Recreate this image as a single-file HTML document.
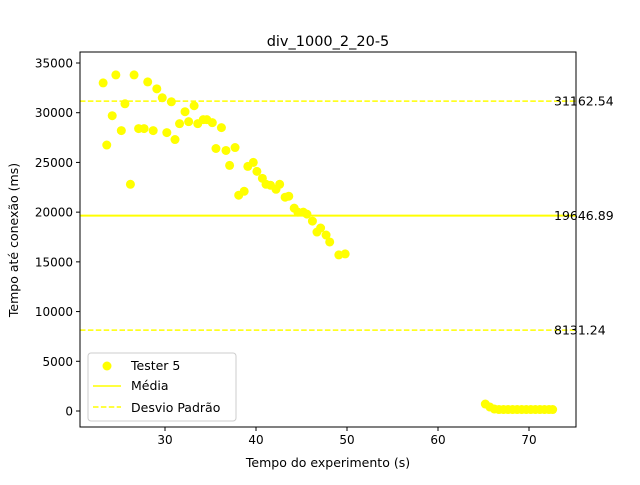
<!DOCTYPE html>
<html><head><meta charset="utf-8"><style>
body{margin:0;background:#fff;font-family:"Liberation Sans","DejaVu Sans",sans-serif}
text{font-family:"DejaVu Sans","Liberation Sans",sans-serif}
</style></head><body>
<svg id="chart" width="640" height="480" xmlns="http://www.w3.org/2000/svg">
<rect width="640" height="480" fill="#fff"/>
</svg>
<script>
const xs=[23.2,23.6,24.2,24.6,25.2,25.6,26.2,26.6,27.1,27.7,28.1,28.7,29.1,29.7,30.2,30.7,31.1,31.6,32.2,32.6,33.2,33.6,34.2,34.6,35.2,35.6,36.2,36.7,37.1,37.7,38.1,38.7,39.1,39.7,40.1,40.7,41.1,41.6,42.2,42.6,43.2,43.6,44.2,44.6,45.2,45.6,46.2,46.7,47.1,47.7,48.1,49.1,49.8,65.2,65.7,66.2,66.7,67.2,67.7,68.2,68.7,69.2,69.7,70.2,70.7,71.2,71.7,72.2,72.6];
const ys=[33000,26750,29700,33800,28200,30900,22800,33800,28400,28400,33100,28200,32400,31500,28000,31100,27300,28900,30100,29100,30700,28900,29300,29300,29000,26400,28500,26200,24700,26500,21700,22100,24600,25000,24100,23400,22800,22700,22300,22800,21500,21600,20400,20000,20000,19800,19100,18000,18400,17700,17000,15700,15800,700,400,200,150,150,150,150,150,150,150,150,150,150,150,150,150];
const mean=19646.89, upper=31162.54, lower=8131.24;
const xTicks=[30,40,50,60,70];
const yTicks=[0,5000,10000,15000,20000,25000,30000,35000];
const L=80,R=576,T=52,B=427;
const X=v=>165+(v-30)*9.1;
const Y=v=>411-v*0.009943;
const NS="http://www.w3.org/2000/svg";
const svg=document.getElementById('chart');
function mk(t,a,txt){const e=document.createElementNS(NS,t);for(const k in a)e.setAttribute(k,a[k]);if(txt!==undefined)e.textContent=txt;svg.appendChild(e);return e;}
let e;
e=mk('line',{x1:L,x2:R,y1:Y(mean),y2:Y(mean),stroke:'#ffff00','stroke-width':2});

e=mk('line',{x1:L,x2:R,y1:Y(upper),y2:Y(upper),stroke:'#ffff00','stroke-width':1.5,'stroke-dasharray':'5.5,2.4'});

e=mk('line',{x1:L,x2:R,y1:Y(lower),y2:Y(lower),stroke:'#ffff00','stroke-width':1.5,'stroke-dasharray':'5.5,2.4'});

for(let i=0;i<xs.length;i++){
 e=mk('circle',{cx:X(xs[i]),cy:Y(ys[i]),r:4.5,fill:'#ffff00'});
 
}
[[mean,'19646.89'],[upper,'31162.54'],[lower,'8131.24']].forEach(([v,t])=>{
 e=mk('text',{x:554,y:Y(v)+4.5,'font-size':12.5,fill:'#000'},t);
 
});
e=mk('rect',{x:L,y:T,width:R-L,height:B-T,fill:'none',stroke:'#000','stroke-width':1});

xTicks.forEach(v=>{
 mk('line',{x1:X(v),x2:X(v),y1:B,y2:B+4,stroke:'#000'});
 e=mk('text',{x:X(v),y:B+17,'font-size':12,'text-anchor':'middle'},v);
 
});
yTicks.forEach(v=>{
 mk('line',{x1:L-4,x2:L,y1:Y(v),y2:Y(v),stroke:'#000'});
 e=mk('text',{x:L-7,y:Y(v)+4.5,'font-size':12,'text-anchor':'end'},v);
 
});
e=mk('text',{x:328,y:467,'font-size':12.5,'text-anchor':'middle'},'Tempo do experimento (s)');

e=mk('text',{x:18,y:240,'font-size':12.5,'text-anchor':'middle',transform:'rotate(-90 18 240)'},'Tempo até conexão (ms)');

e=mk('text',{x:328,y:46,'font-size':14.5,'text-anchor':'middle'},'div_1000_2_20-5');

e=mk('rect',{x:88,y:353,width:148,height:68,rx:3,fill:'#fff',stroke:'#ccc'});

e=mk('circle',{cx:107,cy:366,r:4.5,fill:'#ffff00'});

e=mk('line',{x1:93,x2:121,y1:386,y2:386,stroke:'#ffff00','stroke-width':1.5});

e=mk('line',{x1:93,x2:121,y1:407,y2:407,stroke:'#ffff00','stroke-width':1.5,'stroke-dasharray':'5.5,2.4'});

[['Tester 5',370],['Média',390],['Desvio Padrão',412]].forEach(([t,y])=>{
 e=mk('text',{x:131,y:y,'font-size':12.5},t);
 
});
</script>
</body></html>
